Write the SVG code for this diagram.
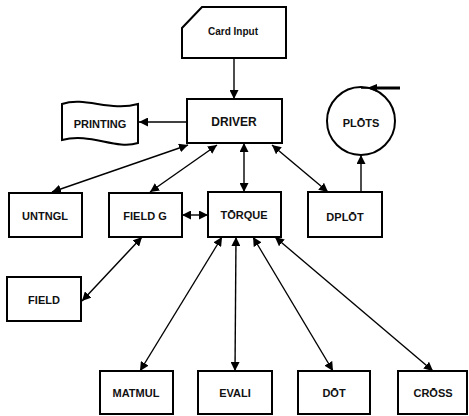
<svg xmlns="http://www.w3.org/2000/svg" width="469" height="416" viewBox="0 0 469 416">
<style>
.b{fill:#fff;stroke:#000;stroke-width:2}
.t{font-family:"Liberation Sans",Arial,sans-serif;font-weight:bold;font-size:11px;fill:#111;text-anchor:middle;dominant-baseline:central}
.c{stroke:#000;stroke-width:1.4;fill:none}
</style>
<defs>
<marker id="a" viewBox="0 0 10 10" refX="10" refY="5" markerWidth="9" markerHeight="9" markerUnits="userSpaceOnUse" orient="auto-start-reverse">
<path d="M0,0 L10,5 L0,10 z" fill="#000"/>
</marker>
</defs>
<rect width="469" height="416" fill="#fff"/>
<g id="card-input"><path class="b" d="M202,7 L286,7 L286,58 L182,58 L182,28 Z"/><text class="t" x="233" y="31" style="font-size:10px">Card Input</text></g>
<g id="driver"><rect class="b" x="187" y="99" width="95" height="44"/><text class="t" x="234" y="122" style="font-size:12px">DRIVER</text></g>
<g id="printing"><path class="b" d="M62,104 C85,96 110,112 138,104 L138,143 C115,150 90,132 62,140 Z"/><text class="t" x="100" y="124">PRINTING</text></g>
<g id="plots"><circle class="b" cx="361" cy="121" r="34"/><line x1="361" y1="88" x2="400" y2="88" stroke="#000" stroke-width="1.5"/><line x1="374" y1="88" x2="400" y2="88" stroke="#000" stroke-width="3"/><path d="M367,88 L377,84 L377,92 Z" fill="#000"/><text class="t" x="361" y="123">PLŌTS</text></g>
<g id="untngl"><rect class="b" x="9" y="193" width="73" height="44"/><text class="t" x="45" y="216">UNTNGL</text></g>
<g id="field-g"><rect class="b" x="109" y="193" width="73" height="44"/><text class="t" x="145" y="216">FIELD G</text></g>
<g id="torque"><rect class="b" x="208" y="192" width="73" height="45"/><text class="t" x="244" y="215">TŌRQUE</text></g>
<g id="dplot"><rect class="b" x="308" y="192" width="74" height="45"/><text class="t" x="345" y="217">DPLŌT</text></g>
<g id="field"><rect class="b" x="7" y="277" width="74" height="44"/><text class="t" x="44" y="300">FIELD</text></g>
<g id="matmul"><rect class="b" x="100" y="371" width="73" height="43"/><text class="t" x="136" y="393">MATMUL</text></g>
<g id="evali"><rect class="b" x="198" y="371" width="74" height="43"/><text class="t" x="235" y="393">EVALI</text></g>
<g id="dot"><rect class="b" x="298" y="371" width="72" height="43"/><text class="t" x="334" y="393">DŌT</text></g>
<g id="cross"><rect class="b" x="398" y="371" width="69" height="43"/><text class="t" x="433" y="393">CRŌSS</text></g>
<g id="connectors">
<line class="c" x1="234" y1="58" x2="234" y2="99" marker-end="url(#a)"/>
<line class="c" x1="187" y1="122" x2="139" y2="122" marker-end="url(#a)"/>
<line class="c" x1="361" y1="192" x2="361" y2="155" marker-end="url(#a)"/>
<line class="c" x1="188" y1="145" x2="52" y2="192" marker-start="url(#a)" marker-end="url(#a)"/>
<line class="c" x1="217" y1="145" x2="150" y2="192" marker-start="url(#a)" marker-end="url(#a)"/>
<line class="c" x1="244" y1="143" x2="244" y2="192" marker-start="url(#a)" marker-end="url(#a)"/>
<line class="c" x1="272" y1="145" x2="328" y2="192" marker-start="url(#a)" marker-end="url(#a)"/>
<line class="c" x1="182" y1="215" x2="208" y2="215" marker-start="url(#a)" marker-end="url(#a)"/>
<line class="c" x1="82" y1="301" x2="142" y2="237" marker-start="url(#a)" marker-end="url(#a)"/>
<line class="c" x1="222" y1="237" x2="140" y2="371" marker-start="url(#a)" marker-end="url(#a)"/>
<line class="c" x1="236" y1="237" x2="235" y2="371" marker-start="url(#a)" marker-end="url(#a)"/>
<line class="c" x1="253" y1="237" x2="333" y2="371" marker-start="url(#a)" marker-end="url(#a)"/>
<line class="c" x1="275" y1="237" x2="433" y2="371" marker-start="url(#a)" marker-end="url(#a)"/>
</g>
</svg>
